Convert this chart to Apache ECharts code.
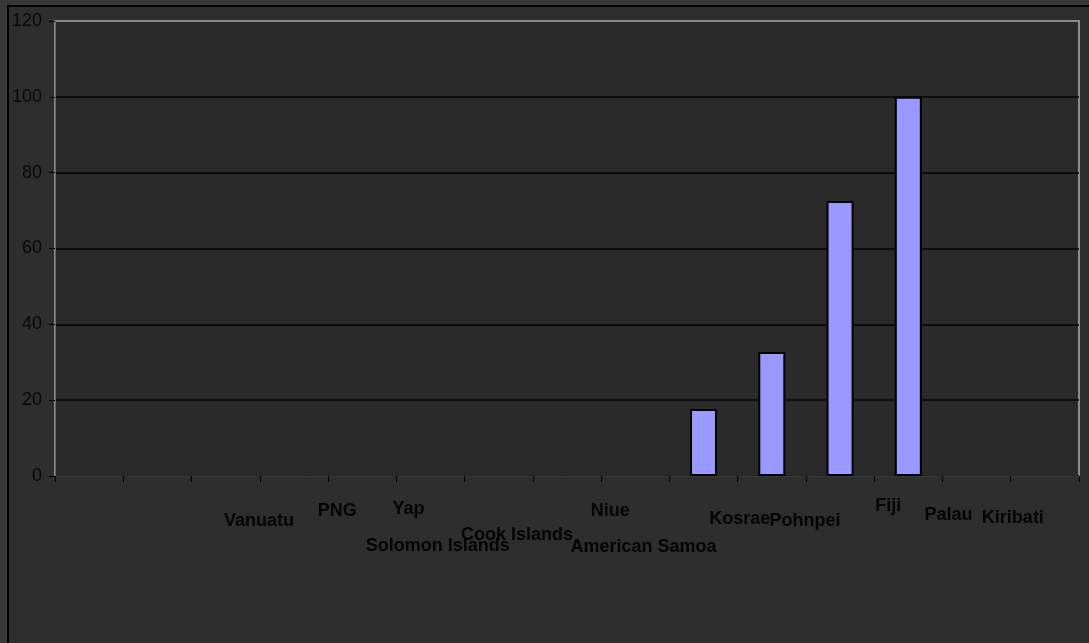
<!DOCTYPE html>
<html>
<head>
<meta charset="utf-8">
<script src="https://cdn.jsdelivr.net/npm/echarts@6/dist/echarts.min.js"></script>
<style>
  html, body { margin: 0; padding: 0; background: #2e2e2e; }
  #chart { width: 1089px; height: 643px; }
</style>
</head>
<body>
<div id="chart"></div>
<script>
// Categories (the first three slots have no label) and their values
const categories = ['', '', '', 'Vanuatu', 'PNG', 'Yap', 'Solomon Islands', 'Cook Islands',
  'Niue', 'American Samoa', 'Kosrae', 'Pohnpei', 'Fiji', 'Palau', 'Kiribati'];
const values = [null, null, null, null, null, null, null, null, null, 17.7, 32.7, 72.5, 100, null, null];
const yTicks = [0, 20, 40, 60, 80, 100, 120];

// Staggered placement of the category labels: [shift left, drop below axis] in px
const labelShift = [
  [0, 0], [0, 0], [0, 0],
  [35, 35], [25, 25], [22, 23], [61, 60], [50, 49], [25, 25],
  [60, 61], [32, 33], [35, 35], [20, 20], [28, 29], [32, 32]
];

// Fine dotted fill for the plot area
function dotPattern() {
  const c = document.createElement('canvas');
  c.width = 2; c.height = 2;
  const g = c.getContext('2d');
  g.fillStyle = '#2c2c2c';
  g.fillRect(0, 0, 2, 2);
  g.fillStyle = '#242424';
  g.fillRect(0, 0, 1, 1);
  return { image: c, repeat: 'repeat' };
}

// Rich-text styles: the label block is centred on its line, so vertical
// padding is doubled to move the glyphs down by the wanted amount.
const rich = {};
labelShift.forEach(function (s, i) {
  rich['l' + i] = {
    fontFamily: 'Liberation Sans, Arial, sans-serif',
    fontSize: 18,
    fontWeight: 'bold',
    color: '#050505',
    lineHeight: 20,
    padding: [2 * s[1], 2 * s[0], 0, 0]
  };
});

const chart = echarts.init(document.getElementById('chart'));
chart.setOption({
  backgroundColor: '#2e2e2e',
  animation: false,
  graphic: [
    { type: 'rect', shape: { x: 0, y: 0, width: 1089, height: 5 }, style: { fill: '#383838' }, silent: true },
    { type: 'rect', shape: { x: 0, y: 0, width: 7, height: 643 }, style: { fill: '#383838' }, silent: true },
    { type: 'line', shape: { x1: 7, y1: 6, x2: 1089, y2: 6 }, style: { stroke: '#000', lineWidth: 2 }, silent: true },
    { type: 'line', shape: { x1: 8, y1: 5, x2: 8, y2: 643 }, style: { stroke: '#000', lineWidth: 2 }, silent: true }
  ],
  grid: {
    left: 55, top: 21, right: 10, bottom: 167,
    outerBoundsMode: 'none',
    containLabel: false,
    show: true,
    backgroundColor: dotPattern(),
    borderColor: '#8a8a8a',
    borderWidth: 2
  },
  xAxis: {
    type: 'category',
    data: categories,
    boundaryGap: true,
    axisLine: { show: true, lineStyle: { color: '#3a3a3a', width: 1 } },
    axisTick: { show: true, length: 6, lineStyle: { color: '#000', width: 1 } },
    axisLabel: {
      interval: 0,
      margin: 0,
      hideOverlap: false,
      formatter: function (v, i) { return v ? '{l' + i + '|' + v + '}' : ''; },
      rich: rich
    },
    splitLine: { show: false }
  },
  yAxis: {
    type: 'value',
    min: yTicks[0],
    max: yTicks[yTicks.length - 1],
    interval: yTicks[1] - yTicks[0],
    axisLine: { show: true, lineStyle: { color: '#666', width: 1 } },
    axisTick: { show: true, length: 6, lineStyle: { color: '#000', width: 1 } },
    axisLabel: {
      margin: 13,
      fontFamily: 'Liberation Sans, Arial, sans-serif',
      fontSize: 18,
      color: '#080808'
    },
    splitLine: {
      show: true,
      lineStyle: { color: ['#050505', '#050505', '#050505', '#050505', '#050505', '#050505', '#8a8a8a'], width: 1.5 }
    }
  },
  series: [{
    type: 'bar',
    data: values,
    barWidth: 27,
    itemStyle: { color: '#9999ff', borderColor: '#000', borderWidth: 2 }
  }]
});
</script>
</body>
</html>
